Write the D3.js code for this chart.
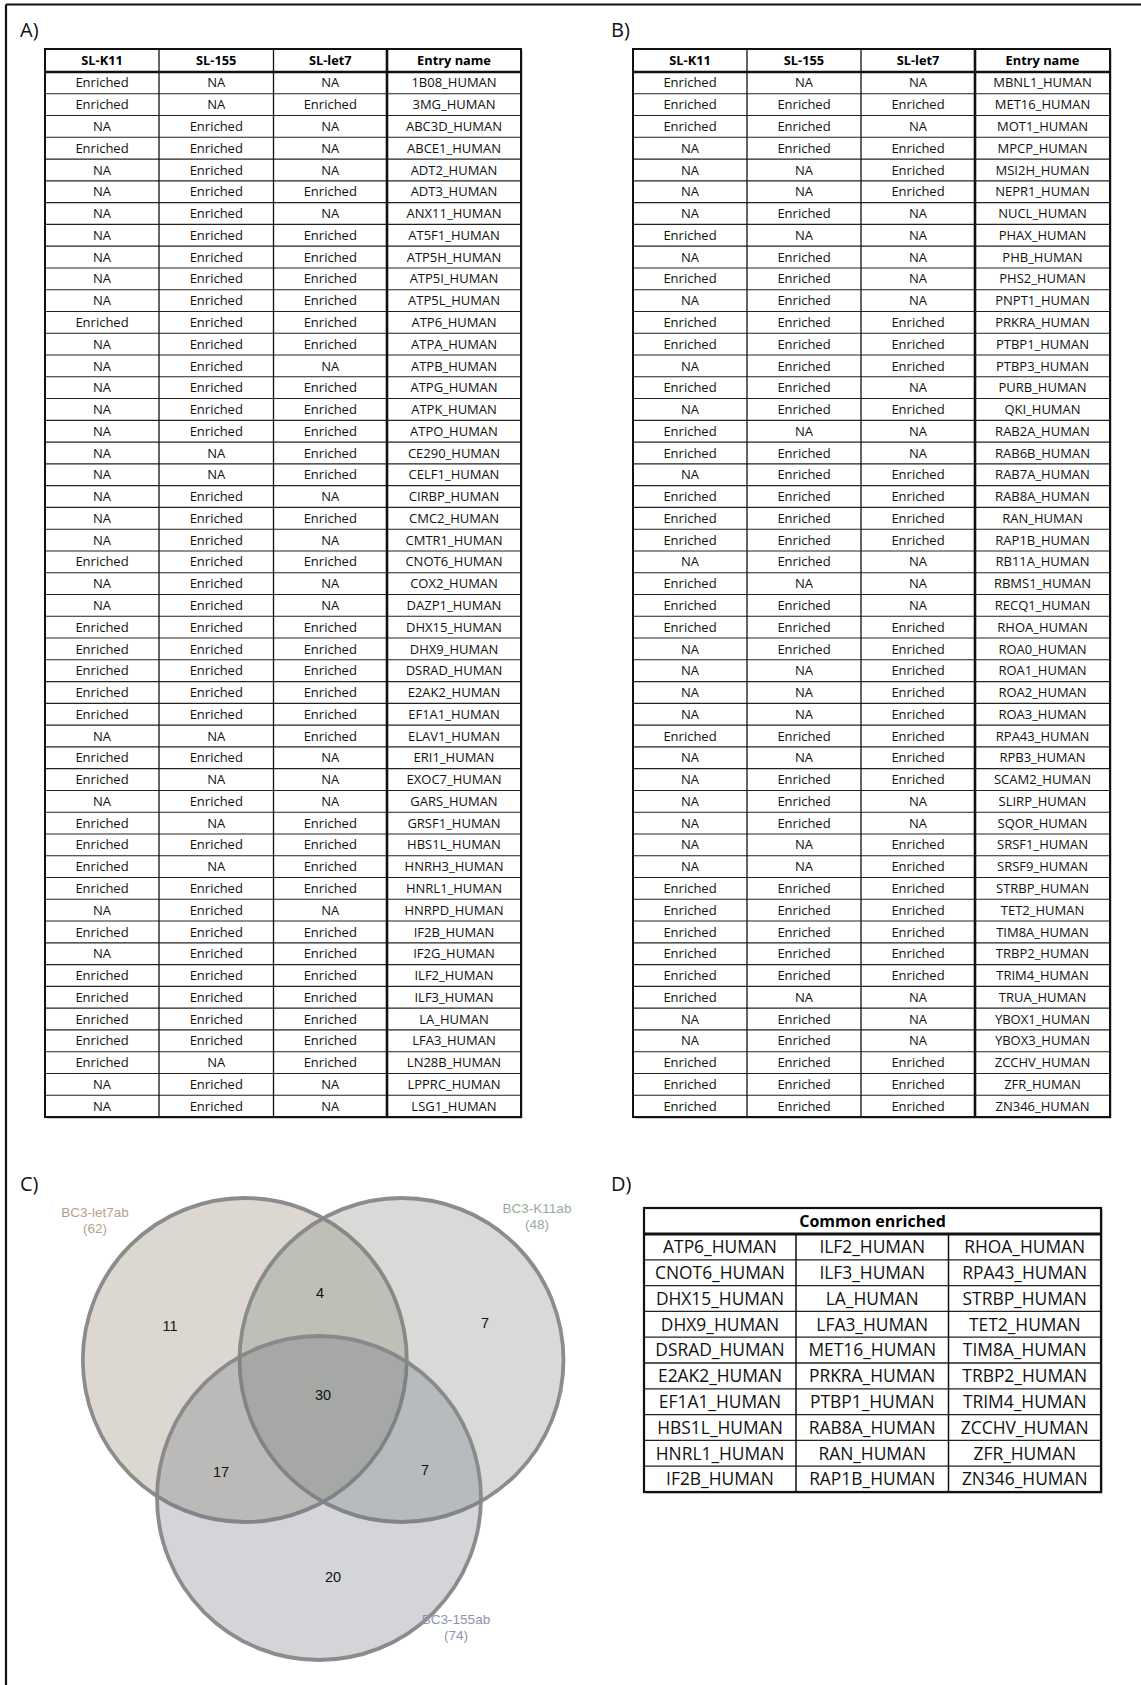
<!DOCTYPE html>
<html><head><meta charset="utf-8">
<script src="https://cdn.jsdelivr.net/npm/d3@7"></script>
<style>body{margin:0;background:#fff}svg{display:block}</style>
</head><body>
<svg id="fig" width="1141" height="1685"></svg>
<script>
const E = "Enriched", N = "NA";
const tableHeaders = ["SL-K11", "SL-155", "SL-let7", "Entry name"];

// Panel A
const aK11  = [E,E,N,E,N,N,N,N,N,N,N,E,N,N,N,N,N,N,N,N,N,N,E,N,N,E,E,E,E,E,N,E,E,N,E,E,E,E,N,E,N,E,E,E,E,E,N,N];
const a155  = [N,N,E,E,E,E,E,E,E,E,E,E,E,E,E,E,E,N,N,E,E,E,E,E,E,E,E,E,E,E,N,E,N,E,N,E,N,E,E,E,E,E,E,E,E,N,E,E];
const aLet7 = [N,E,N,N,N,E,N,E,E,E,E,E,E,N,E,E,E,E,E,N,E,N,E,N,N,E,E,E,E,E,E,N,N,N,E,E,E,E,N,E,E,E,E,E,E,E,N,N];
const aEntry = ["1B08_HUMAN","3MG_HUMAN","ABC3D_HUMAN","ABCE1_HUMAN","ADT2_HUMAN","ADT3_HUMAN","ANX11_HUMAN","AT5F1_HUMAN","ATP5H_HUMAN","ATP5I_HUMAN","ATP5L_HUMAN","ATP6_HUMAN","ATPA_HUMAN","ATPB_HUMAN","ATPG_HUMAN","ATPK_HUMAN","ATPO_HUMAN","CE290_HUMAN","CELF1_HUMAN","CIRBP_HUMAN","CMC2_HUMAN","CMTR1_HUMAN","CNOT6_HUMAN","COX2_HUMAN","DAZP1_HUMAN","DHX15_HUMAN","DHX9_HUMAN","DSRAD_HUMAN","E2AK2_HUMAN","EF1A1_HUMAN","ELAV1_HUMAN","ERI1_HUMAN","EXOC7_HUMAN","GARS_HUMAN","GRSF1_HUMAN","HBS1L_HUMAN","HNRH3_HUMAN","HNRL1_HUMAN","HNRPD_HUMAN","IF2B_HUMAN","IF2G_HUMAN","ILF2_HUMAN","ILF3_HUMAN","LA_HUMAN","LFA3_HUMAN","LN28B_HUMAN","LPPRC_HUMAN","LSG1_HUMAN"];

// Panel B
const bK11  = [E,E,E,N,N,N,N,E,N,E,N,E,E,N,E,N,E,E,N,E,E,E,N,E,E,E,N,N,N,N,E,N,N,N,N,N,N,E,E,E,E,E,E,N,N,E,E,E];
const b155  = [N,E,E,E,N,N,E,N,E,E,E,E,E,E,E,E,N,E,E,E,E,E,E,N,E,E,E,N,N,N,E,N,E,E,E,N,N,E,E,E,E,E,N,E,E,E,E,E];
const bLet7 = [N,E,N,E,E,E,N,N,N,N,N,E,E,E,N,E,N,N,E,E,E,E,N,N,N,E,E,E,E,E,E,E,E,N,N,E,E,E,E,E,E,E,N,N,N,E,E,E];
const bEntry = ["MBNL1_HUMAN","MET16_HUMAN","MOT1_HUMAN","MPCP_HUMAN","MSI2H_HUMAN","NEPR1_HUMAN","NUCL_HUMAN","PHAX_HUMAN","PHB_HUMAN","PHS2_HUMAN","PNPT1_HUMAN","PRKRA_HUMAN","PTBP1_HUMAN","PTBP3_HUMAN","PURB_HUMAN","QKI_HUMAN","RAB2A_HUMAN","RAB6B_HUMAN","RAB7A_HUMAN","RAB8A_HUMAN","RAN_HUMAN","RAP1B_HUMAN","RB11A_HUMAN","RBMS1_HUMAN","RECQ1_HUMAN","RHOA_HUMAN","ROA0_HUMAN","ROA1_HUMAN","ROA2_HUMAN","ROA3_HUMAN","RPA43_HUMAN","RPB3_HUMAN","SCAM2_HUMAN","SLIRP_HUMAN","SQOR_HUMAN","SRSF1_HUMAN","SRSF9_HUMAN","STRBP_HUMAN","TET2_HUMAN","TIM8A_HUMAN","TRBP2_HUMAN","TRIM4_HUMAN","TRUA_HUMAN","YBOX1_HUMAN","YBOX3_HUMAN","ZCCHV_HUMAN","ZFR_HUMAN","ZN346_HUMAN"];

// Panel C (Venn)
const vennSets = ["BC3-let7ab", "BC3-K11ab", "BC3-155ab"];
const vennTotals = [62, 48, 74];
const vennRegions = ["let7", "let7&K11", "K11", "let7&K11&155", "let7&155", "K11&155", "155"];
const vennCounts = [11, 4, 7, 30, 17, 7, 20];

// Panel D
const commonTitle = "Common enriched";
const common1 = ["ATP6_HUMAN","CNOT6_HUMAN","DHX15_HUMAN","DHX9_HUMAN","DSRAD_HUMAN","E2AK2_HUMAN","EF1A1_HUMAN","HBS1L_HUMAN","HNRL1_HUMAN","IF2B_HUMAN"];
const common2 = ["ILF2_HUMAN","ILF3_HUMAN","LA_HUMAN","LFA3_HUMAN","MET16_HUMAN","PRKRA_HUMAN","PTBP1_HUMAN","RAB8A_HUMAN","RAN_HUMAN","RAP1B_HUMAN"];
const common3 = ["RHOA_HUMAN","RPA43_HUMAN","STRBP_HUMAN","TET2_HUMAN","TIM8A_HUMAN","TRBP2_HUMAN","TRIM4_HUMAN","ZCCHV_HUMAN","ZFR_HUMAN","ZN346_HUMAN"];

// ---------- drawing ----------
const svg = d3.select("#fig");
const FONT = "'Open Sans','Noto Sans',sans-serif";

// figure frame (top and left edges)
svg.append("line").attr("x1", 6).attr("x2", 1141).attr("y1", 4.5).attr("y2", 4.5).attr("stroke", "#111").attr("stroke-width", 2.2);
svg.append("line").attr("x1", 6).attr("x2", 6).attr("y1", 4.5).attr("y2", 1685).attr("stroke", "#111").attr("stroke-width", 2.2);

function panelLabel(t, x, y) {
  svg.append("text").attr("x", x).attr("y", y).text(t)
    .attr("font-family", FONT).attr("font-size", 20).attr("fill", "#111");
}
panelLabel("A)", 20, 37);
panelLabel("B)", 611, 37);
panelLabel("C)", 20, 1191);
panelLabel("D)", 611, 1191);

function drawTable(cols, edges, top, headBottom, bottom) {
  const n = cols[0].length;
  const g = svg.append("g");
  const y = d3.scaleBand().domain(d3.range(n)).range([headBottom, bottom]);
  const x = d3.scaleOrdinal().domain(d3.range(4)).range(edges.slice(0, 4));
  const w = i => edges[i + 1] - edges[i];
  const left = edges[0], right = edges[4];
  g.append("rect").attr("x", left + 1.5).attr("y", top + 1.5).attr("width", right - left).attr("height", bottom - top).attr("fill", "#9a9a9a");
  g.append("rect").attr("x", left).attr("y", top).attr("width", right - left).attr("height", bottom - top).attr("fill", "#fff");
  g.selectAll("line.row").data(d3.range(1, n)).join("line")
    .attr("x1", left).attr("x2", right).attr("y1", d => y(d)).attr("y2", d => y(d))
    .attr("stroke", "#222").attr("stroke-width", 1.1);
  g.selectAll("line.col").data([1, 2, 3]).join("line")
    .attr("x1", d => x(d)).attr("x2", d => x(d)).attr("y1", top).attr("y2", bottom)
    .attr("stroke", "#111").attr("stroke-width", d => d === 3 ? 2.6 : 1.3);
  g.append("line").attr("x1", left).attr("x2", right).attr("y1", headBottom).attr("y2", headBottom).attr("stroke", "#111").attr("stroke-width", 2.6);
  g.append("rect").attr("x", left).attr("y", top).attr("width", right - left).attr("height", bottom - top)
    .attr("fill", "none").attr("stroke", "#111").attr("stroke-width", 2);
  g.selectAll("text.h").data(tableHeaders).join("text")
    .attr("x", (d, i) => x(i) + w(i) / 2).attr("y", (top + headBottom) / 2 + 4.6)
    .attr("text-anchor", "middle").attr("font-family", FONT).attr("font-weight", 700)
    .attr("font-size", 12.8).attr("fill", "#000").text(d => d);
  cols.forEach((col, ci) => {
    g.selectAll("text.c" + ci).data(col).join("text")
      .attr("x", x(ci) + w(ci) / 2).attr("y", (d, i) => y(i) + y.bandwidth() / 2 + 4.6)
      .attr("text-anchor", "middle").attr("font-family", FONT)
      .attr("font-size", 13).attr("fill", "#111").text(d => d);
  });
}

drawTable([aK11, a155, aLet7, aEntry], [45, 159, 273.5, 387, 521], 49, 72, 1117);
drawTable([bK11, b155, bLet7, bEntry], [633, 747, 861, 975, 1110], 49, 72, 1117);

// ---------- Venn ----------
const circleLayout = [
  {cx: 244.8, cy: 1360, r: 162, fill: "rgb(140,126,104)", lab: [95, 1217], labColor: "#b3a288"},
  {cx: 401.5, cy: 1360, r: 162, fill: "rgb(124,134,124)", lab: [537, 1213], labColor: "#9aab9a"},
  {cx: 319,   cy: 1498, r: 162, fill: "rgb(112,116,130)", lab: [456, 1624], labColor: "#8d94ad"}
];
const vg = svg.append("g");
vennSets.forEach((s, i) => {
  const c = circleLayout[i];
  vg.append("circle").attr("cx", c.cx).attr("cy", c.cy).attr("r", c.r)
    .attr("fill", c.fill).attr("fill-opacity", 0.3)
    .attr("stroke", "#878787").attr("stroke-width", 3.8).attr("stroke-opacity", 0.95);
});
vennSets.forEach((s, i) => {
  const c = circleLayout[i];
  const t = vg.append("text").attr("text-anchor", "middle")
    .attr("font-family", "'Liberation Sans',Arial,sans-serif").attr("font-size", 13.5)
    .attr("fill", c.labColor);
  t.append("tspan").attr("x", c.lab[0]).attr("y", c.lab[1]).text(s);
  t.append("tspan").attr("x", c.lab[0]).attr("y", c.lab[1] + 16).text("(" + vennTotals[i] + ")");
});
const regionPos = {
  "let7": [170, 1326], "let7&K11": [320, 1293], "K11": [485, 1323],
  "let7&K11&155": [323, 1395], "let7&155": [221, 1472], "K11&155": [425, 1470], "155": [333, 1577]
};
vg.selectAll("text.cnt").data(vennRegions).join("text")
  .attr("x", d => regionPos[d][0]).attr("y", (d) => regionPos[d][1] + 5)
  .attr("text-anchor", "middle").attr("font-family", "'Liberation Sans',Arial,sans-serif")
  .attr("font-size", 14.5).attr("fill", "#111")
  .text((d, i) => vennCounts[i]);

// ---------- Table D ----------
(function () {
  const edges = [644, 796, 948.5, 1101];
  const top = 1208, headBottom = 1234, bottom = 1492;
  const cols = [common1, common2, common3];
  const g = svg.append("g");
  const y = d3.scaleBand().domain(d3.range(common1.length)).range([headBottom, bottom]);
  const left = edges[0], right = edges[3];
  g.append("rect").attr("x", left + 1.5).attr("y", top + 1.5).attr("width", right - left).attr("height", bottom - top).attr("fill", "#9a9a9a");
  g.append("rect").attr("x", left).attr("y", top).attr("width", right - left).attr("height", bottom - top).attr("fill", "#fff");
  g.selectAll("line.row").data(d3.range(1, common1.length)).join("line")
    .attr("x1", left).attr("x2", right).attr("y1", d => y(d)).attr("y2", d => y(d))
    .attr("stroke", "#222").attr("stroke-width", 1.3);
  g.selectAll("line.col").data([1, 2]).join("line")
    .attr("x1", d => edges[d]).attr("x2", d => edges[d]).attr("y1", headBottom).attr("y2", bottom)
    .attr("stroke", "#111").attr("stroke-width", 1.5);
  g.append("line").attr("x1", left).attr("x2", right).attr("y1", headBottom).attr("y2", headBottom).attr("stroke", "#111").attr("stroke-width", 3);
  g.append("rect").attr("x", left).attr("y", top).attr("width", right - left).attr("height", bottom - top)
    .attr("fill", "none").attr("stroke", "#111").attr("stroke-width", 2.2);
  g.append("text").attr("x", (left + right) / 2).attr("y", (top + headBottom) / 2 + 5.5)
    .attr("text-anchor", "middle").attr("font-family", FONT).attr("font-weight", 700)
    .attr("font-size", 16).attr("fill", "#000").text(commonTitle);
  cols.forEach((col, ci) => {
    g.selectAll("text.c" + ci).data(col).join("text")
      .attr("x", (edges[ci] + edges[ci + 1]) / 2).attr("y", (d, i) => y(i) + y.bandwidth() / 2 + 6.2)
      .attr("text-anchor", "middle").attr("font-family", FONT)
      .attr("font-size", 17.4).attr("fill", "#111").text(d => d);
  });
})();
</script>
</body></html>
